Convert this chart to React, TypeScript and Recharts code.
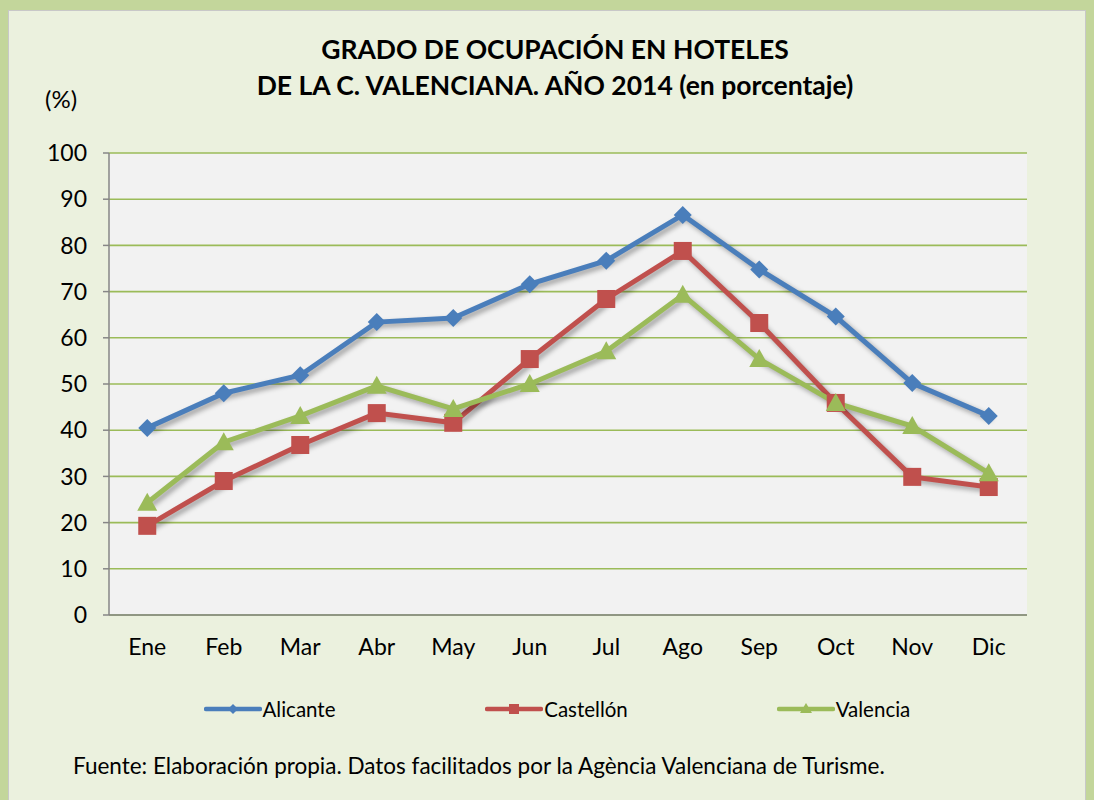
import React from "react";
import { LineChart, Line, XAxis, YAxis, CartesianGrid, Legend } from "recharts";

const months = ["Ene", "Feb", "Mar", "Abr", "May", "Jun", "Jul", "Ago", "Sep", "Oct", "Nov", "Dic"];
const alicante = [40.5, 48.0, 51.9, 63.4, 64.3, 71.6, 76.7, 86.6, 74.8, 64.6, 50.2, 43.1];
const castellon = [19.3, 29.0, 36.8, 43.7, 41.6, 55.4, 68.4, 78.8, 63.2, 45.9, 29.9, 27.7];
const valencia = [24.3, 37.4, 43.1, 49.6, 44.6, 50.0, 57.1, 69.3, 55.4, 45.9, 40.9, 30.7];
const yTicks = [0, 10, 20, 30, 40, 50, 60, 70, 80, 90, 100];
const edgeTicks = [0, 1, 2, 3, 4, 5, 6, 7, 8, 9, 10, 11, 12];

const seriesNames = ["Alicante", "Castellón", "Valencia"];
const colors = ["#4a7ebb", "#c0504d", "#9bbb59"];

const data = months.map((m, i) => ({
  month: m,
  Alicante: alicante[i],
  "Castellón": castellon[i],
  Valencia: valencia[i],
}));

const FONT = "Lato, 'Open Sans', sans-serif";

function Marker({ kind, cx, cy, fill, s = 9 }: any) {
  if (cx == null || cy == null) return <g />;
  if (kind === "diamond") {
    return <path d={`M${cx},${cy - s} L${cx + s},${cy} L${cx},${cy + s} L${cx - s},${cy} Z`} fill={fill} />;
  }
  if (kind === "square") {
    return <rect x={cx - s} y={cy - s} width={2 * s} height={2 * s} fill={fill} />;
  }
  return <path d={`M${cx},${cy - s - 1} L${cx + s + 1},${cy + s - 1} L${cx - s - 1},${cy + s - 1} Z`} fill={fill} />;
}

const kinds = ["diamond", "square", "triangle"];

function LegendContent() {
  return (
    <div style={{ display: "flex", width: 861, marginLeft: 126, height: 30, fontFamily: FONT, fontSize: 20.5 }}>
      {seriesNames.map((n, i) => (
        <div key={n} style={{ flex: 1, display: "flex", alignItems: "center", justifyContent: "center" }}>
          <svg width={58} height={20} style={{ marginRight: 1 }}>
            <line x1={2} y1={10} x2={56} y2={10} stroke={colors[i]} strokeWidth={4.5} strokeLinecap="round" />
            <Marker kind={kinds[i]} cx={29} cy={10} fill={colors[i]} s={5} />
          </svg>
          <span style={{ color: "#000" }}>{n}</span>
        </div>
      ))}
    </div>
  );
}

export default function App() {
  return (
    <div style={{ position: "absolute", left: 0, top: 0, width: 1094, height: 800, background: "#c3d69b", overflow: "hidden" }}>
      <style>{`.shadowed { filter: drop-shadow(3px 3px 2.5px rgba(0,0,0,0.35)); }`}</style>
      <div style={{ position: "absolute", left: 8, top: 10, width: 1076, height: 800, background: "#ebf1de", borderLeft: "1px solid #c8c8c8", borderTop: "1px solid #c8c8c8", borderRight: "1px solid #c8c8c8" }} />
      <div style={{ position: "absolute", left: 0, top: 31, width: 1110, textAlign: "center", fontFamily: FONT, fontWeight: 700, fontSize: 26.5, lineHeight: "36px", color: "#000" }}>
        GRADO DE OCUPACIÓN EN HOTELES
        <br />
        DE LA C. VALENCIANA. AÑO 2014 (en porcentaje)
      </div>
      <div style={{ position: "absolute", left: 45, top: 84, fontFamily: FONT, fontSize: 24, color: "#000" }}>(%)</div>
      <div style={{ position: "absolute", left: 73, top: 752, fontFamily: FONT, fontSize: 22.5, color: "#000" }}>
        Fuente: Elaboración propia. Datos facilitados por la Agència Valenciana de Turisme.
      </div>
      <div style={{ position: "absolute", left: 0, top: 0 }}>
        <LineChart width={1094} height={800} data={data} margin={{ top: 153, right: 67, left: 0, bottom: 115 }}>
          <CartesianGrid vertical={false} stroke="#9bbb59" strokeWidth={1.6} fill="#f2f2f2" fillOpacity={1} />
          <XAxis
            xAxisId="edges"
            type="number"
            domain={[0, 12]}
            ticks={edgeTicks}
            height={0}
            axisLine={false}
            tick={() => <g />}
            tickLine={{ stroke: "#868686", strokeWidth: 1.5 }}
            tickSize={7}
          />
          <XAxis
            dataKey="month"
            scale="band"
            height={40}
            axisLine={{ stroke: "#868686", strokeWidth: 1.5 }}
            tickLine={false}
            tickMargin={18}
            tick={{ fill: "#000", fontSize: 23, fontFamily: FONT }}
          />
          <YAxis
            domain={[0, 100]}
            ticks={yTicks}
            width={109}
            axisLine={{ stroke: "#868686", strokeWidth: 1.5 }}
            tickLine={{ stroke: "#868686", strokeWidth: 1.5 }}
            tickSize={6}
            tickMargin={16}
            tick={{ fill: "#000", fontSize: 23, fontFamily: FONT }}
          />
          <Legend
            verticalAlign="bottom"
            content={() => <LegendContent />}
            wrapperStyle={{ left: 0, top: 694, bottom: "auto", width: 1094 }}
          />
          {seriesNames.map((n, i) => (
            <Line
              key={n}
              dataKey={n}
              className="shadowed"
              stroke={colors[i]}
              strokeWidth={5}
              isAnimationActive={false}
              dot={(p: any) => <Marker key={`${n}-${p.index}`} kind={kinds[i]} cx={p.cx} cy={p.cy} fill={colors[i]} />}
              activeDot={false}
            />
          ))}
        </LineChart>
      </div>
    </div>
  );
}
